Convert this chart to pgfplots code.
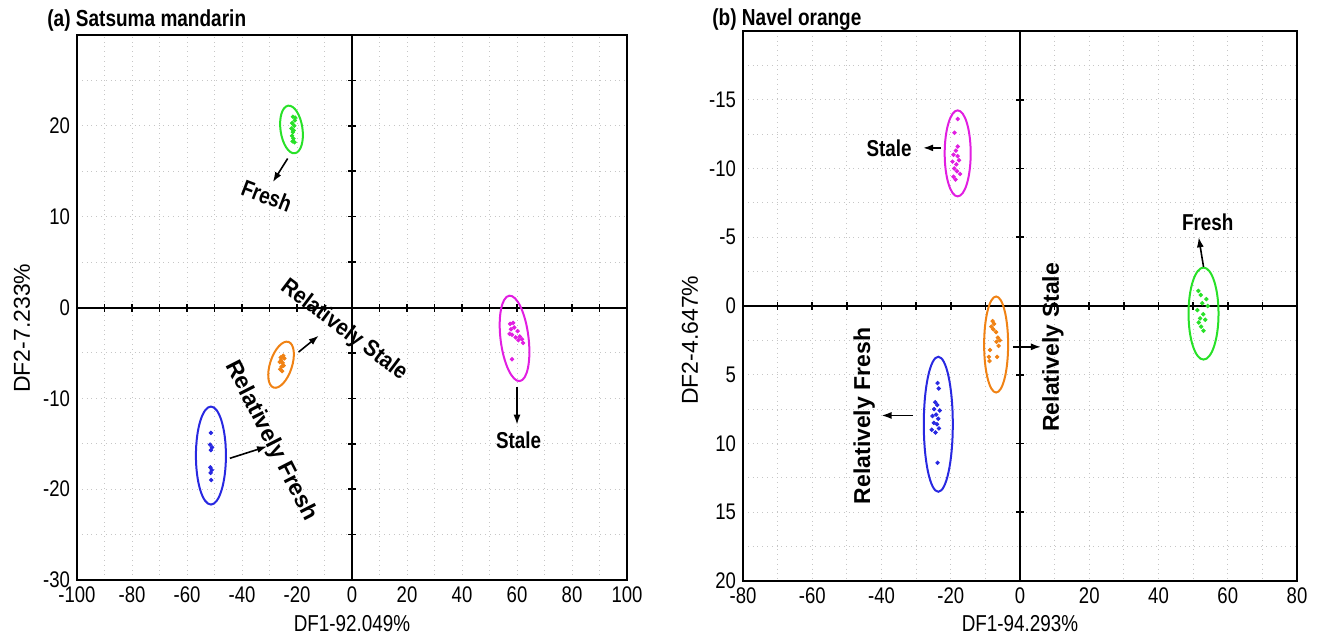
\documentclass[border=0pt]{standalone}
\usepackage{fontspec}
\setmainfont[FakeStretch=0.82]{Liberation Sans}
\newfontfamily\rotfont{Liberation Sans}
\newfontfamily\diagfont[FakeStretch=0.9]{Liberation Sans}
\usepackage{pgfplots}
\pgfplotsset{compat=1.18}
\usetikzlibrary{arrows.meta}
\definecolor{cgreen}{RGB}{40,225,40}
\definecolor{cmag}{RGB}{225,30,225}
\definecolor{corange}{RGB}{240,130,20}
\definecolor{cblue}{RGB}{40,40,225}
\tikzset{
  ann/.style={font=\bfseries\fontsize{11.5}{13}\selectfont, inner sep=0pt},
  arr/.style={-{Latex[length=5pt,width=3.5pt]}, black, line width=0.8pt},
}
\pgfplotsset{
  frameaxis/.style={
    scale only axis, anchor=south west,
    axis line style={black, line width=1pt},
    grid=both,
    major grid style={gray!45, dotted, line width=0.5pt},
    minor grid style={gray!45, dotted, line width=0.5pt},
    major tick length=0pt, minor tick length=0pt,
    /pgf/number format/assume math mode=true,
    tick label style={font=\fontsize{11.3}{13}\selectfont},
    label style={font=\fontsize{11.5}{13}\selectfont},
    ylabel style={font=\rotfont\fontsize{11.5}{13}\selectfont, anchor=center},
    xlabel style={anchor=base},
    clip=false,
  },
  centeraxis/.style={
    scale only axis, anchor=south west,
    axis lines=center,
    axis line style={-, black, line width=1pt},
    every inner x axis line/.append style={-},
    every inner y axis line/.append style={-},
    xticklabel=\empty, yticklabel=\empty,
    major tick length=4pt,
    tick style={black, line width=0.8pt},
    clip=false,
  },
  pts/.style={only marks, mark=*, mark size=0.9pt},
}
\begin{document}
\begin{tikzpicture}
\useasboundingbox (0,0) rectangle (660pt,318.5pt);
% ---------------- (a) Satsuma mandarin ----------------
\begin{axis}[frameaxis, at={(38.5pt,28.5pt)}, width=275pt, height=272.5pt,
  xmin=-100, xmax=100, ymin=-30, ymax=30,
  xtick={-100,-80,...,100}, minor xtick={-90,-70,...,90},
  ytick={-30,-20,...,20}, minor ytick={-25,-15,...,25},
  xlabel={DF1-92.049\%}, ylabel={DF2-7.233\%},
  xlabel style={at={(rel axis cs:0.5,0)}, yshift=-25.5pt},
  ylabel style={at={(rel axis cs:0,0.462)}, yshift=27.5pt},
]
\node[anchor=base west, font=\bfseries\fontsize{11.6}{13}\selectfont, inner sep=0pt, xshift=-15pt, yshift=4pt] at (rel axis cs:0,1) {(a) Satsuma mandarin};
\end{axis}
\begin{axis}[centeraxis, at={(38.5pt,28.5pt)}, width=275pt, height=272.5pt,
  xmin=-100, xmax=100, ymin=-30, ymax=30,
  xtick distance=10, ytick distance=5]
% Fresh (green)
\addplot[pts, cgreen] coordinates {(-21.5,21.0) (-20.8,20.6) (-21.8,20.3) (-21.0,20.0) (-22.0,19.7) (-21.5,19.3) (-21.8,18.9) (-21.3,18.6) (-21.6,18.3) (-20.9,18.2) (-21.2,19.5) (-20.7,20.9)};
% Relatively stale (orange)
\addplot[pts, corange] coordinates {(-25.0,-5.3) (-24.6,-5.6) (-25.8,-5.8) (-26.3,-6.0) (-25.2,-6.1) (-25.6,-6.5) (-26.1,-6.8) (-25.4,-7.0) (-24.9,-6.4) (-25.9,-5.5)};
% Relatively fresh (blue)
\addplot[pts, cblue] coordinates {(-51.3,-13.8) (-51.6,-15.1) (-50.9,-15.4) (-51.3,-15.7) (-51.5,-17.6) (-51.0,-17.9) (-51.4,-18.2) (-51.2,-19.0)};
% Stale (magenta)
\addplot[pts, cmag] coordinates {(57.5,-1.8) (58.6,-1.7) (57.8,-2.4) (59.0,-2.2) (58.2,-3.0) (57.3,-2.9) (60.2,-2.6) (61.0,-3.2) (60.5,-3.6) (61.8,-3.5) (62.2,-3.9) (59.5,-3.3) (58.2,-5.7)};
\draw[cgreen, line width=1pt, rotate around={8:(axis cs:-22,19.6)}] (axis cs:-22,19.6) ellipse [x radius=5.5pt, y radius=12pt];
\draw[corange, line width=1pt, rotate around={-18:(axis cs:-25.8,-6.3)}] (axis cs:-25.8,-6.3) ellipse [x radius=5.5pt, y radius=12pt];
\draw[cblue, line width=1pt] (axis cs:-51.3,-16.3) ellipse [x radius=7.5pt, y radius=24.5pt];
\draw[cmag, line width=1pt, rotate around={7:(axis cs:59.1,-3.4)}] (axis cs:59.1,-3.4) ellipse [x radius=7pt, y radius=21.5pt];
\draw[arr] (axis cs:-23.4,16.4) -- (axis cs:-28.8,13.8);
\node[ann, rotate=-21] at (axis cs:-31,12.3) {Fresh};
\draw[arr] (axis cs:-19.4,-4.9) -- (axis cs:-12.1,-3.1);
\node[ann, font=\diagfont\bfseries\fontsize{11.5}{13}\selectfont, rotate=-37] at (axis cs:-3.0,-2.5) {Relatively Stale};
\draw[arr] (axis cs:-44.4,-16.6) -- (axis cs:-30.9,-15.3);
\node[ann, font=\rotfont\bfseries\fontsize{11.5}{13}\selectfont, rotate=-63] at (axis cs:-29.5,-14.7) {Relatively Fresh};
\draw[arr] (axis cs:60,-8.7) -- (axis cs:60,-12.9);
\node[ann] at (axis cs:60.6,-14.6) {Stale};
\end{axis}
% ---------------- (b) Navel orange ----------------
\begin{axis}[frameaxis, at={(371.5pt,28pt)}, width=277pt, height=275pt,
  xmin=-80, xmax=80, ymin=-20, ymax=20, y dir=reverse,
  xtick={-80,-60,...,80}, minor xtick={-70,-50,...,70},
  ytick={-15,-10,...,20}, minor ytick={-17.5,-12.5,...,17.5},
  xlabel={DF1-94.293\%}, ylabel={DF2-4.647\%},
  xlabel style={at={(rel axis cs:0.5,0)}, yshift=-25pt},
  ylabel style={at={(rel axis cs:0,0.438)}, yshift=26.5pt},
]
\node[anchor=base west, font=\bfseries\fontsize{11.6}{13}\selectfont, inner sep=0pt, xshift=-15.5pt, yshift=2.5pt] at (rel axis cs:0,1) {(b) Navel orange};
\end{axis}
\begin{axis}[centeraxis, at={(371.5pt,28pt)}, width=277pt, height=275pt,
  xmin=-80, xmax=80, ymin=-20, ymax=20, y dir=reverse,
  xtick distance=10, ytick distance=5]
% Stale (magenta)
\addplot[pts, cmag] coordinates {(-18.0,-13.6) (-18.9,-12.6) (-18.5,-11.3) (-19.2,-11.0) (-18.0,-10.9) (-19.5,-10.5) (-18.4,-10.3) (-17.6,-10.6) (-19.0,-10.0) (-18.2,-9.8) (-17.3,-9.6) (-19.2,-9.4) (-18.6,-9.2) (-18.0,-11.6)};
% Fresh (green)
\addplot[pts, cgreen] coordinates {(51.5,-1.1) (52.2,-0.8) (53.8,-0.5) (52.6,-0.2) (54.2,0.0) (51.2,0.3) (52.9,0.6) (53.5,1.0) (51.6,1.2) (52.3,1.5) (53.0,1.8) (52.0,0.9)};
% Relatively stale (orange)
\addplot[pts, corange] coordinates {(-7.9,1.1) (-7.5,1.3) (-8.3,1.5) (-7.7,1.7) (-6.9,1.9) (-6.4,2.3) (-5.8,2.5) (-6.8,2.6) (-6.2,2.9) (-8.7,3.2) (-9.0,3.7) (-8.8,4.0) (-6.6,3.7)};
% Relatively fresh (blue)
\addplot[pts, cblue] coordinates {(-23.8,5.6) (-23.5,6.0) (-24.5,7.0) (-23.9,7.2) (-24.8,7.5) (-23.2,7.6) (-24.2,7.9) (-25.3,8.0) (-23.6,8.2) (-24.9,8.5) (-24.0,8.6) (-23.4,8.9) (-25.5,9.0) (-24.4,9.2) (-23.8,11.4)};
\draw[cmag, line width=1pt] (axis cs:-18,-11.1) ellipse [x radius=6.5pt, y radius=21.5pt];
\draw[cgreen, line width=1pt] (axis cs:53,0.55) ellipse [x radius=7.5pt, y radius=23pt];
\draw[corange, line width=1pt] (axis cs:-6.9,2.8) ellipse [x radius=6pt, y radius=24pt];
\draw[cblue, line width=1pt] (axis cs:-23.6,8.6) ellipse [x radius=7.25pt, y radius=33.75pt];
\draw[arr] (axis cs:-22.8,-11.5) -- (axis cs:-28,-11.5);
\node[ann] at (axis cs:-37.8,-11.5) {Stale};
\draw[arr] (axis cs:53,-2.85) -- (axis cs:51.6,-5.0);
\node[ann] at (axis cs:54.2,-6.1) {Fresh};
\draw[arr] (axis cs:-2.1,2.97) -- (axis cs:6.05,2.97);
\node[ann, font=\rotfont\bfseries\fontsize{11.5}{13}\selectfont, rotate=90] at (axis cs:9.5,3.0) {Relatively Stale};
\draw[arr] (axis cs:-30.9,7.96) -- (axis cs:-40,7.96);
\node[ann, font=\rotfont\bfseries\fontsize{11.5}{13}\selectfont, rotate=90] at (axis cs:-45,8.0) {Relatively Fresh};
\end{axis}
\end{tikzpicture}
\end{document}
